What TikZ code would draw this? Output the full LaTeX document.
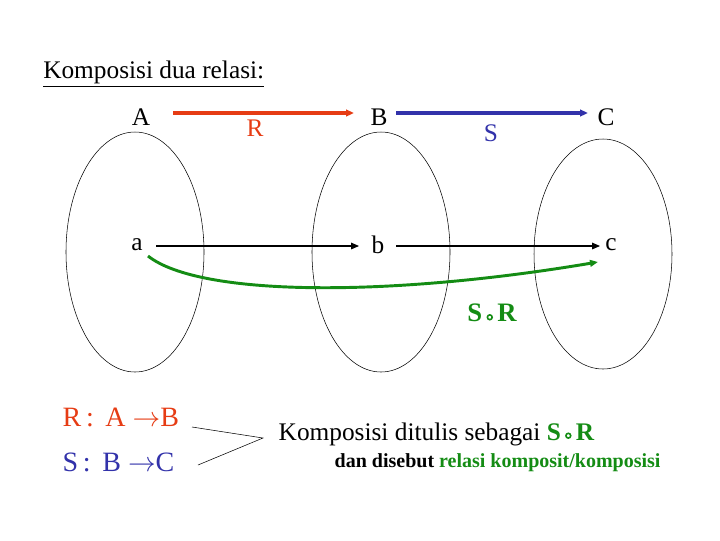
\documentclass[tikz,border=0pt]{standalone}
\usepackage{fontspec}
\setmainfont{Liberation Serif}
\usetikzlibrary{arrows.meta}
\definecolor{rred}{RGB}{230,60,20}
\definecolor{sblue}{RGB}{50,50,170}
\definecolor{ggreen}{RGB}{20,140,20}
\newcommand{\cmp}{\raisebox{0.1ex}{\tikz\draw[line width=1.2pt] (0,0) circle (1.8pt);}}
\begin{document}
\begin{tikzpicture}[x=0.75pt,y=-0.75pt,
  lbl/.style={font=\fontsize{19}{21}\selectfont,inner sep=1pt},
  setell/.style={draw,thin},
  arr/.style={-{Triangle[length=6pt,width=5pt]}}]
\useasboundingbox (0,0) rectangle (720,540);
\node[anchor=west,font=\fontsize{19}{21}\selectfont,inner sep=0pt] (title) at (43,74) {\underline{Komposisi dua relasi:}};
\draw[setell] (135,252) ellipse [x radius=69,y radius=120];
\draw[setell] (381,252) ellipse [x radius=69,y radius=120];
\draw[setell] (603,254) ellipse [x radius=69,y radius=115];
\node[lbl] (A) at (141,117) {A};
\node[lbl] (B) at (379,117) {B};
\node[lbl] (C) at (606,117) {C};
\node[lbl,text=rred] (Rl) at (255,128) {R};
\node[lbl,text=sblue] (Sl) at (491,133) {S};
\draw[rred,line width=2.5pt,arr] (173,113) -- (354,113);
\draw[sblue,line width=2.5pt,arr] (396,113) -- (588,113);
\node[lbl] (a) at (137,245) {a};
\node[lbl] (b) at (378,245) {b};
\node[lbl] (c) at (611,245) {c};
\draw[thick,arr] (156,246) coordinate(a1) -- (359,246) coordinate(b0);
\draw[thick,arr] (396,246) coordinate(b1) -- (600,246) coordinate(c0);
\coordinate (g0) at (148,256);
\coordinate (g1) at (598,262);
\draw[ggreen,line width=2.2pt,arr] (g0) .. controls (200,297) and (390,297) .. (g1);
\node[lbl,text=ggreen,font=\fontsize{20}{22}\selectfont\bfseries] (SR) at (492,313) {S\,\cmp\,R};
\node[anchor=west,text=rred,font=\fontsize{21}{23}\selectfont] (r1) at (58,417) {R\,:\, A $\rightarrow$B};
\node[anchor=west,text=sblue,font=\fontsize{21}{23}\selectfont] (r2) at (58,462) {S\,:\, B $\rightarrow$C};
\coordinate (tip) at (263,438);
\draw (192,427) -- (tip) -- (198,465);
\node[anchor=west,font=\fontsize{19}{21}\selectfont] (t1) at (274,434) {Komposisi ditulis sebagai \textcolor{ggreen}{\textbf{S\,\cmp\,R}}};
\node[anchor=west,font=\fontsize{15}{17}\selectfont\bfseries] (t2) at (330,463) {dan disebut \textcolor{ggreen}{relasi komposit/komposisi}};
\end{tikzpicture}
\end{document}
